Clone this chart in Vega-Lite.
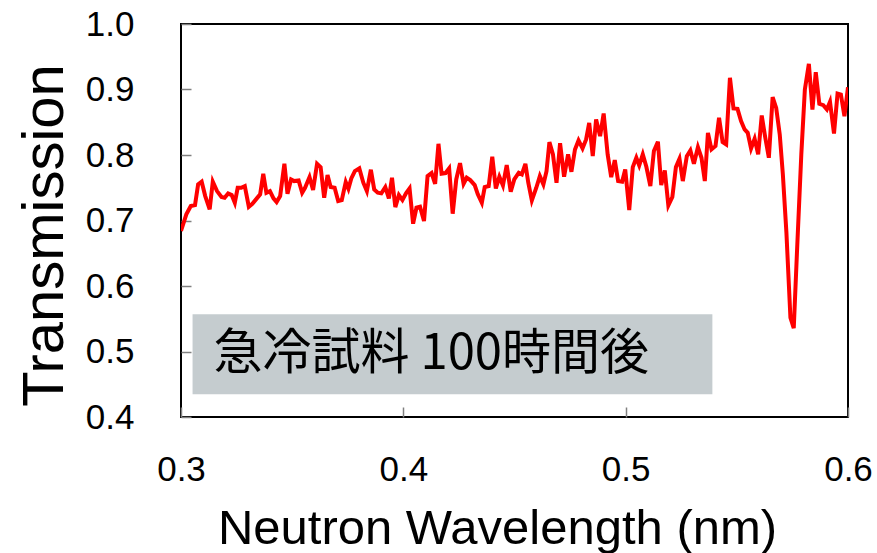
{
  "$schema": "https://vega.github.io/schema/vega-lite/v6.json",
  "autosize": {"type": "none"},
  "padding": {"left": 181, "top": 24, "right": 29, "bottom": 136},
  "width": 667,
  "height": 393,
  "background": "white",
  "config": {
    "font": "Liberation Sans",
    "view": {"stroke": "#000000", "strokeWidth": 2},
    "axis": {"grid": false, "domain": false}
  },
  "datasets": {
    "spectrum": [
      {"w": 0.3, "t": 0.684}, {"w": 0.3024, "t": 0.7094}, {"w": 0.3044, "t": 0.7221}, {"w": 0.3063, "t": 0.7236},
      {"w": 0.3077, "t": 0.7551}, {"w": 0.3093, "t": 0.7592}, {"w": 0.3109, "t": 0.7373}, {"w": 0.3129, "t": 0.717},
      {"w": 0.3143, "t": 0.7592}, {"w": 0.3162, "t": 0.7449}, {"w": 0.3182, "t": 0.7358}, {"w": 0.3196, "t": 0.7348},
      {"w": 0.3212, "t": 0.7414}, {"w": 0.3228, "t": 0.7388}, {"w": 0.3242, "t": 0.7271}, {"w": 0.3255, "t": 0.75},
      {"w": 0.3271, "t": 0.75}, {"w": 0.3287, "t": 0.7526}, {"w": 0.3305, "t": 0.721}, {"w": 0.3321, "t": 0.7256},
      {"w": 0.3341, "t": 0.7338}, {"w": 0.3356, "t": 0.7399}, {"w": 0.337, "t": 0.7714}, {"w": 0.3384, "t": 0.7424},
      {"w": 0.34, "t": 0.7449}, {"w": 0.3416, "t": 0.7338}, {"w": 0.343, "t": 0.7282}, {"w": 0.3446, "t": 0.7373},
      {"w": 0.3465, "t": 0.7866}, {"w": 0.3479, "t": 0.7409}, {"w": 0.3495, "t": 0.7627}, {"w": 0.3509, "t": 0.7602},
      {"w": 0.3529, "t": 0.7612}, {"w": 0.3545, "t": 0.7424}, {"w": 0.3558, "t": 0.75}, {"w": 0.3578, "t": 0.7663},
      {"w": 0.3594, "t": 0.7465}, {"w": 0.3612, "t": 0.7866}, {"w": 0.3628, "t": 0.7815}, {"w": 0.3644, "t": 0.7348},
      {"w": 0.3659, "t": 0.7693}, {"w": 0.3673, "t": 0.751}, {"w": 0.3691, "t": 0.75}, {"w": 0.3707, "t": 0.7297},
      {"w": 0.3723, "t": 0.7312}, {"w": 0.3741, "t": 0.7587}, {"w": 0.3753, "t": 0.7485}, {"w": 0.3766, "t": 0.7643},
      {"w": 0.3782, "t": 0.7754}, {"w": 0.3802, "t": 0.7795}, {"w": 0.382, "t": 0.7577}, {"w": 0.3836, "t": 0.7449},
      {"w": 0.3854, "t": 0.7775}, {"w": 0.3869, "t": 0.7475}, {"w": 0.3885, "t": 0.7424}, {"w": 0.3901, "t": 0.7414},
      {"w": 0.3919, "t": 0.751}, {"w": 0.3935, "t": 0.7338}, {"w": 0.3949, "t": 0.7653}, {"w": 0.3964, "t": 0.7205},
      {"w": 0.398, "t": 0.7388}, {"w": 0.3996, "t": 0.7312}, {"w": 0.4012, "t": 0.7414}, {"w": 0.4028, "t": 0.749},
      {"w": 0.4044, "t": 0.6951}, {"w": 0.4059, "t": 0.7195}, {"w": 0.4075, "t": 0.721}, {"w": 0.4093, "t": 0.6992},
      {"w": 0.4109, "t": 0.7678}, {"w": 0.4127, "t": 0.7724}, {"w": 0.4143, "t": 0.7561}, {"w": 0.4158, "t": 0.8171},
      {"w": 0.4172, "t": 0.7714}, {"w": 0.419, "t": 0.7724}, {"w": 0.4206, "t": 0.7795}, {"w": 0.4222, "t": 0.7104},
      {"w": 0.4238, "t": 0.7627}, {"w": 0.4255, "t": 0.7876}, {"w": 0.4271, "t": 0.7561}, {"w": 0.4285, "t": 0.7653},
      {"w": 0.4301, "t": 0.7617}, {"w": 0.4321, "t": 0.7541}, {"w": 0.4335, "t": 0.7399}, {"w": 0.4353, "t": 0.7271},
      {"w": 0.4366, "t": 0.751}, {"w": 0.4384, "t": 0.7526}, {"w": 0.44, "t": 0.7973}, {"w": 0.4416, "t": 0.749},
      {"w": 0.4432, "t": 0.7668}, {"w": 0.4448, "t": 0.7536}, {"w": 0.4465, "t": 0.7846}, {"w": 0.4483, "t": 0.7439},
      {"w": 0.4499, "t": 0.7627}, {"w": 0.4519, "t": 0.7729}, {"w": 0.4533, "t": 0.7704}, {"w": 0.4549, "t": 0.7866},
      {"w": 0.4562, "t": 0.7577}, {"w": 0.4578, "t": 0.7307}, {"w": 0.4598, "t": 0.75}, {"w": 0.4614, "t": 0.7678},
      {"w": 0.463, "t": 0.7551}, {"w": 0.4644, "t": 0.7754}, {"w": 0.4657, "t": 0.8197}, {"w": 0.4673, "t": 0.8009},
      {"w": 0.4689, "t": 0.7577}, {"w": 0.4705, "t": 0.8181}, {"w": 0.4723, "t": 0.7668}, {"w": 0.4741, "t": 0.8009},
      {"w": 0.4756, "t": 0.7744}, {"w": 0.4772, "t": 0.8085}, {"w": 0.4788, "t": 0.8222}, {"w": 0.4806, "t": 0.81},
      {"w": 0.4822, "t": 0.8237}, {"w": 0.4836, "t": 0.8491}, {"w": 0.4852, "t": 0.7983}, {"w": 0.4867, "t": 0.8542},
      {"w": 0.4885, "t": 0.8288}, {"w": 0.4901, "t": 0.8634}, {"w": 0.4919, "t": 0.8009}, {"w": 0.4935, "t": 0.7663},
      {"w": 0.4951, "t": 0.7922}, {"w": 0.4966, "t": 0.7602}, {"w": 0.4984, "t": 0.7592}, {"w": 0.4998, "t": 0.778},
      {"w": 0.5016, "t": 0.716}, {"w": 0.5032, "t": 0.7815}, {"w": 0.5048, "t": 0.7958}, {"w": 0.5061, "t": 0.7841},
      {"w": 0.5077, "t": 0.8009}, {"w": 0.5093, "t": 0.7821}, {"w": 0.5111, "t": 0.7526}, {"w": 0.5127, "t": 0.806},
      {"w": 0.5145, "t": 0.8202}, {"w": 0.516, "t": 0.7541}, {"w": 0.5176, "t": 0.7765}, {"w": 0.5192, "t": 0.7231},
      {"w": 0.521, "t": 0.7358}, {"w": 0.5226, "t": 0.7815}, {"w": 0.5242, "t": 0.7943}, {"w": 0.5257, "t": 0.7602},
      {"w": 0.5275, "t": 0.7983}, {"w": 0.5291, "t": 0.807}, {"w": 0.5307, "t": 0.7866}, {"w": 0.5325, "t": 0.812},
      {"w": 0.5341, "t": 0.7958}, {"w": 0.5356, "t": 0.7602}, {"w": 0.537, "t": 0.8339}, {"w": 0.5386, "t": 0.8085},
      {"w": 0.5404, "t": 0.8136}, {"w": 0.542, "t": 0.8568}, {"w": 0.5436, "t": 0.8197}, {"w": 0.5452, "t": 0.8161},
      {"w": 0.5469, "t": 0.9178}, {"w": 0.5485, "t": 0.871}, {"w": 0.5503, "t": 0.8705}, {"w": 0.5519, "t": 0.8517},
      {"w": 0.5535, "t": 0.839}, {"w": 0.5549, "t": 0.8339}, {"w": 0.5564, "t": 0.81}, {"w": 0.558, "t": 0.8248},
      {"w": 0.5596, "t": 0.8009}, {"w": 0.5612, "t": 0.8603}, {"w": 0.5628, "t": 0.8263}, {"w": 0.5644, "t": 0.7958},
      {"w": 0.5661, "t": 0.8883}, {"w": 0.5677, "t": 0.872}, {"w": 0.5693, "t": 0.8314}, {"w": 0.5707, "t": 0.7704},
      {"w": 0.5723, "t": 0.6814}, {"w": 0.5741, "t": 0.5517}, {"w": 0.5756, "t": 0.5355}, {"w": 0.5772, "t": 0.6636},
      {"w": 0.579, "t": 0.8009}, {"w": 0.5806, "t": 0.9}, {"w": 0.5824, "t": 0.9391}, {"w": 0.584, "t": 0.8695},
      {"w": 0.5855, "t": 0.9264}, {"w": 0.5871, "t": 0.8781}, {"w": 0.5889, "t": 0.8761}, {"w": 0.5905, "t": 0.8695},
      {"w": 0.5919, "t": 0.8812}, {"w": 0.5937, "t": 0.8329}, {"w": 0.5953, "t": 0.8939}, {"w": 0.5968, "t": 0.8924},
      {"w": 0.5984, "t": 0.8593}, {"w": 0.6, "t": 0.9036}
    ],
    "box": [{"x1": 0.3052, "x2": 0.539, "y1": 0.4347, "y2": 0.5569}],
    "label": [{"x": 0.3146, "y": 0.4955, "text": "急冷試料 100時間後"}]
  },
  "layer": [
    {
      "data": {"name": "box"},
      "mark": {"type": "rect", "color": "#C5CCCF"},
      "encoding": {
        "x": {"field": "x1", "type": "quantitative", "scale": {"domain": [0.3, 0.6]}},
        "x2": {"field": "x2"},
        "y": {"field": "y1", "type": "quantitative", "scale": {"domain": [0.4, 1.0]}},
        "y2": {"field": "y2"}
      }
    },
    {
      "data": {"name": "label"},
      "mark": {"type": "text", "align": "left", "baseline": "middle", "font": "Noto Sans CJK JP", "fontSize": 49, "color": "#000000"},
      "encoding": {
        "x": {"field": "x", "type": "quantitative"},
        "y": {"field": "y", "type": "quantitative"},
        "text": {"field": "text"}
      }
    },
    {
      "data": {"name": "spectrum"},
      "mark": {"type": "line", "color": "#FF0000", "strokeWidth": 4, "clip": true},
      "encoding": {
        "x": {
          "field": "w", "type": "quantitative",
          "scale": {"domain": [0.3, 0.6], "nice": false, "zero": false},
          "axis": {
            "values": [0.3, 0.4, 0.5, 0.6], "format": ".1f",
            "tickSize": -10, "tickColor": "#808080", "tickWidth": 1.5,
            "labelFontSize": 35, "labelColor": "#000000", "labelPadding": 45, "labelFlush": false,
            "title": "Neutron Wavelength (nm)", "titleFontSize": 49, "titleFontWeight": "normal", "titleColor": "#000000",
            "titleX": 316, "titleY": 126, "titleBaseline": "alphabetic", "titleAnchor": "middle"
          }
        },
        "y": {
          "field": "t", "type": "quantitative",
          "scale": {"domain": [0.4, 1.0], "nice": false, "zero": false},
          "axis": {
            "values": [0.4, 0.5, 0.6, 0.7, 0.8, 0.9, 1.0], "format": ".1f",
            "tickSize": -10, "tickColor": "#808080", "tickWidth": 1.5,
            "labelFontSize": 35, "labelColor": "#000000", "labelPadding": 57, "labelFlush": false,
            "title": "Transmission", "titleFontSize": 58, "titleFontWeight": "normal", "titleColor": "#000000",
            "titleX": -119, "titleY": 211, "titleBaseline": "alphabetic", "titleAnchor": "middle", "titleAngle": -90
          }
        }
      }
    }
  ]
}
